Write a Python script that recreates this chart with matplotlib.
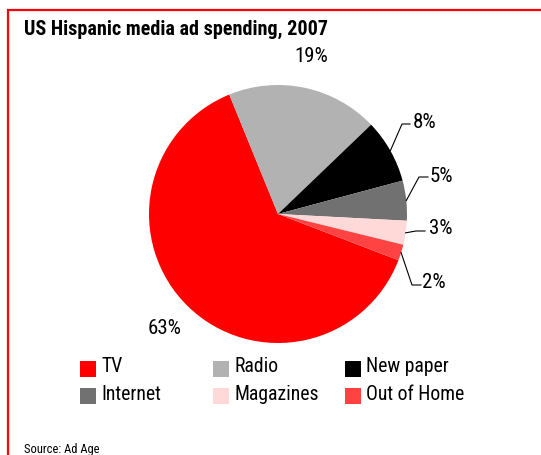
import matplotlib
matplotlib.use("Agg")
import matplotlib.pyplot as plt
from matplotlib.patches import Rectangle
import numpy as np

plt.rcParams['font.family'] = ['Roboto Condensed', 'Liberation Sans', 'DejaVu Sans']

# Data
categories = ["TV", "Radio", "New paper", "Internet", "Magazines", "Out of Home"]
shares = [63, 19, 8, 5, 3, 2]
colors = ["#FF0000", "#B2B2B2", "#000000", "#717171", "#FFD8D8", "#FF4242"]
value_labels = ["63%", "19%", "8%", "5%", "3%", "2%"]

W, H = 541, 455
fig = plt.figure(figsize=(W / 100, H / 100), dpi=100)


def fx(px):
    return px / W


def fy(py):
    return 1 - py / H


# Red frame (open at right and bottom edges)
fig.patches.append(Rectangle((fx(8), fy(470)), fx(600), (470 - 10) / H,
                             transform=fig.transFigure, fill=False,
                             edgecolor="#FF0000", linewidth=1.6, clip_on=False))

fig.text(fx(24), fy(35), "US Hispanic media ad spending, 2007", fontsize=14.5,
         fontweight="bold", ha="left", va="baseline", color="black")

# Pie: centre (278, 214) px, radius 129 px
cx, cy, r = 278, 214, 129
ax = fig.add_axes([fx(cx - r), fy(cy + r), 2 * r / W, 2 * r / H])
wedges, _ = ax.pie(shares, colors=colors, startangle=339, counterclock=False,
                   radius=1.0, wedgeprops=dict(linewidth=0))
ax.set_xlim(-1, 1)
ax.set_ylim(-1, 1)
ax.set_aspect("equal")
ax.axis("off")


def d(px, py):
    return ((px - cx) / r, (cy - py) / r)


pct_size = 15

# Labels without leader lines
ax.text(*d(294, 57), value_labels[1], fontsize=pct_size, ha="left", va="center", clip_on=False)
ax.text(*d(148, 328), value_labels[0], fontsize=pct_size, ha="left", va="center", clip_on=False)

# Labels with elbow leader lines: (index, elbow px, end px, text px)
leaders = [
    (2, (402, 124), (410, 124), (413, 123)),
    (3, (419, 177), (428, 177), (430, 176)),
    (4, (416, 231), (425, 231), (429, 229)),
    (5, (412, 285), (421, 285), (422, 282)),
]
for idx, elbow, end, tpos in leaders:
    w = wedges[idx]
    mid = np.deg2rad((w.theta1 + w.theta2) / 2)
    sx, sy = np.cos(mid), np.sin(mid)
    ex, ey = d(*elbow)
    tx, ty = d(*end)
    ax.plot([sx, ex, tx], [sy, ey, ty], color="black", linewidth=0.8, clip_on=False)
    ax.text(*d(*tpos), value_labels[idx], fontsize=pct_size, ha="left", va="center", clip_on=False)

# Legend: 3 columns x 2 rows
col_x = [80, 213, 345]
row_y = [361, 388]
sq = 16
for i, (name, c) in enumerate(zip(categories, colors)):
    col, row = i % 3, i // 3
    x0, y0 = col_x[col], row_y[row]
    fig.patches.append(Rectangle((fx(x0), fy(y0 + sq)), sq / W, sq / H,
                                 transform=fig.transFigure, facecolor=c,
                                 edgecolor="none"))
    fig.text(fx(x0 + sq + 5), fy(y0 + sq / 2 - 2), name, fontsize=14.2,
             ha="left", va="center", color="black")

fig.text(fx(24), fy(453), "Source: Ad Age", fontsize=9, ha="left",
         va="baseline", color="black")

fig.savefig("out.png", dpi=100, facecolor="white")
